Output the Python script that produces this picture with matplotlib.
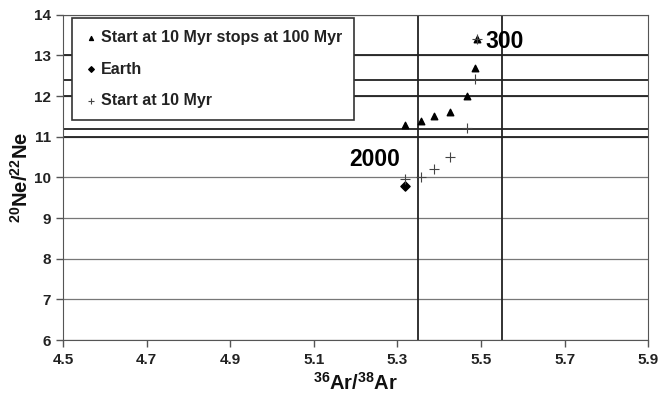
import matplotlib.pyplot as plt

# data
tri_x = [5.317, 5.356, 5.387, 5.427, 5.466, 5.486, 5.49]
tri_y = [11.29, 11.40, 11.51, 11.61, 12.00, 12.70, 13.40]

plus_x = [5.49, 5.486, 5.466, 5.427, 5.387, 5.356, 5.317]
plus_y = [13.40, 12.42, 11.21, 10.51, 10.21, 10.00, 9.96]

earth_x = [5.317]
earth_y = [9.80]

hlines = [13, 12.4, 12, 11.2, 11]
vlines = [5.35, 5.55]

xticks = [4.5, 4.7, 4.9, 5.1, 5.3, 5.5, 5.7, 5.9]
yticks = [6, 7, 8, 9, 10, 11, 12, 13, 14]

plt.rcParams['font.family'] = ['Liberation Sans', 'DejaVu Sans']
plt.rcParams['mathtext.fontset'] = 'custom'
plt.rcParams['mathtext.rm'] = 'Liberation Sans:bold'
plt.rcParams['mathtext.bf'] = 'Liberation Sans:bold'
plt.rcParams['mathtext.default'] = 'bf'

fig = plt.figure(figsize=(6.58, 4.01), dpi=100)
ax = fig.add_axes([0.096, 0.152, 0.889, 0.811])

for y in yticks:
    ax.axhline(y, color='#777777', lw=0.9, zorder=1)
for y in hlines:
    ax.axhline(y, color='#222222', lw=1.3, zorder=1)
for x in vlines:
    ax.axvline(x, color='#222222', lw=1.3, zorder=1)

ax.scatter(tri_x, tri_y, marker='^', s=22, color='black', zorder=3,
           label='Start at 10 Myr stops at 100 Myr')
ax.scatter(earth_x, earth_y, marker='D', s=22, color='black', zorder=3,
           label='Earth')
ax.scatter(plus_x, plus_y, marker='+', s=45, color='#444444', lw=0.8,
           zorder=3, label='Start at 10 Myr')

ax.text(5.184, 10.45, '2000', fontsize=16.5, fontweight='bold', ha='left',
        va='center')
ax.text(5.511, 13.34, '300', fontsize=16.5, fontweight='bold', ha='left',
        va='center')

ax.set_xlim(4.5, 5.9)
ax.set_ylim(6, 14)
ax.set_xticks(xticks)
ax.set_xticklabels([f'{v:.1f}' for v in xticks])
ax.set_yticks(yticks)
ax.tick_params(labelsize=11, length=5, width=1, color='#555555', pad=4)
for lab in ax.get_xticklabels() + ax.get_yticklabels():
    lab.set_fontweight('bold')
    lab.set_color('#222222')
for s in ax.spines.values():
    s.set_color('#555555')

ax.set_xlabel(r'$^{36}$Ar/$^{38}$Ar', fontsize=14.5, fontweight='bold',
              labelpad=4, color='#111111')
ax.set_ylabel(r'$^{20}$Ne/$^{22}$Ne', fontsize=14.5, fontweight='bold',
              labelpad=1, color='#111111')

leg = ax.legend(loc='upper left', bbox_to_anchor=(0.0154, 0.991),
                fontsize=11.5, frameon=True, fancybox=False,
                handletextpad=0.25, handlelength=0.8, markerscale=0.6,
                labelspacing=1.05, borderpad=0.75, borderaxespad=0)
leg.get_frame().set_edgecolor('#333333')
leg.get_frame().set_linewidth(1.2)
leg.get_frame().set_alpha(1)
for t in leg.get_texts():
    t.set_fontweight('bold')
    t.set_color('#222222')

fig.savefig('out.png', dpi=100)
